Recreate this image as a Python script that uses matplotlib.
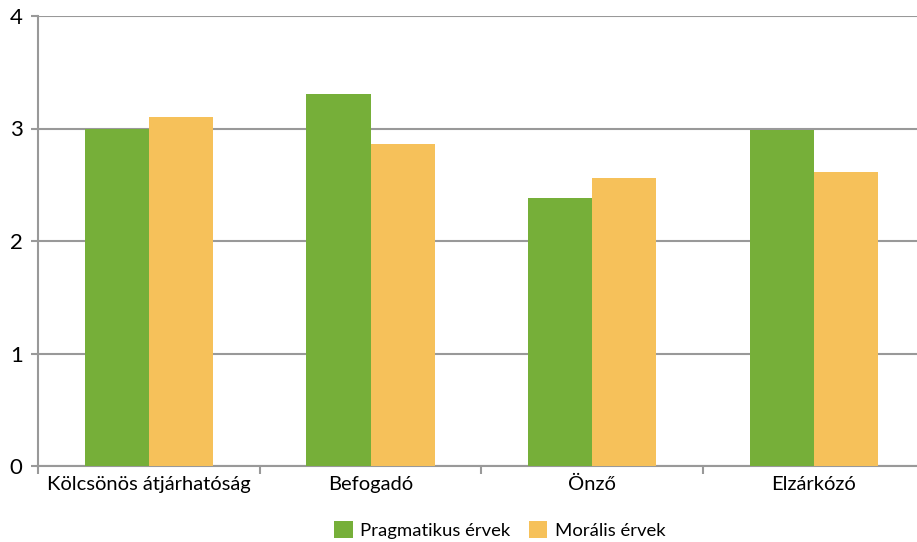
import numpy as np
import matplotlib.pyplot as plt

categories = ['Kölcsönös átjárhatóság', 'Befogadó', 'Önző', 'Elzárkózó']
pragmatikus = [3.00, 3.31, 2.38, 2.99]
moralis = [3.10, 2.86, 2.56, 2.61]
series_names = ['Pragmatikus érvek', 'Morális érvek']
colors = ['#76AF39', '#F6C15A']

plt.rcParams['font.family'] = ['Lato', 'DejaVu Sans']

fig = plt.figure(figsize=(9.17, 5.42), dpi=100)
ax = fig.add_axes([38 / 917, 1 - 466 / 542, 879 / 917, 450 / 542])

x = np.arange(len(categories))
w = 0.289
ax.bar(x - w / 2, pragmatikus, w, color=colors[0], label=series_names[0], zorder=3)
ax.bar(x + w / 2, moralis, w, color=colors[1], label=series_names[1], zorder=3)

ax.set_xlim(-0.5, -0.5 + 879 / 221.7)
ax.set_ylim(0, 4)
ax.set_yticks([0, 1, 2, 3, 4])
ax.yaxis.grid(True, color='#999999', linewidth=1.5, zorder=0)
ax.set_axisbelow(True)

ax.set_xticks(x)
ax.set_xticklabels(categories, fontsize=14.5)
ax.set_xticks([-0.5, 0.5, 1.5, 2.5], minor=True)
ax.tick_params(axis='x', which='major', length=0, pad=7)
ax.tick_params(axis='x', which='minor', length=6, width=1.5, color='#999999')
ax.tick_params(axis='y', length=5, width=1.5, color='#999999', labelsize=16, pad=6)

for s in ['top', 'right']:
    ax.spines[s].set_visible(False)
for s in ['left', 'bottom']:
    ax.spines[s].set_color('#999999')
    ax.spines[s].set_linewidth(1.5)

fig.legend(loc='lower center', bbox_to_anchor=(0.545, -0.025), ncol=2, frameon=False,
           fontsize=13.3, handlelength=1.0, handleheight=1.0, handletextpad=0.4,
           columnspacing=1.0)

fig.savefig('out.png', dpi=100)
